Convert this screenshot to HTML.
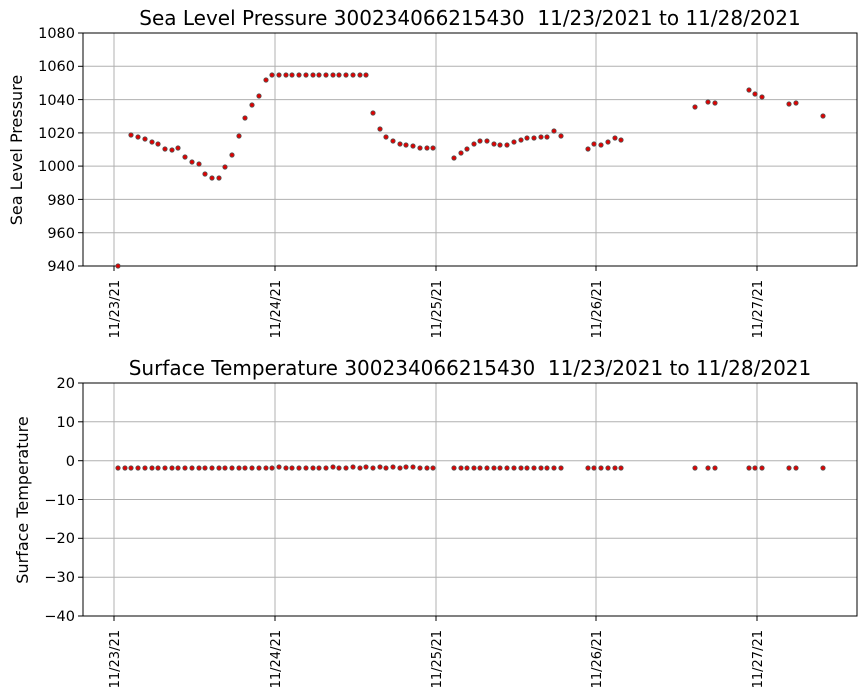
<!DOCTYPE html>
<html><head><meta charset="utf-8"><style>body{margin:0;background:#fff}svg{display:block;font-family:"DejaVu Sans","Liberation Sans",sans-serif}</style></head><body>
<svg width="867" height="700" xmlns="http://www.w3.org/2000/svg">
<g stroke="#b0b0b0" stroke-width="1">
<line x1="114" y1="33" x2="114" y2="266"/><line x1="275" y1="33" x2="275" y2="266"/><line x1="436" y1="33" x2="436" y2="266"/><line x1="596" y1="33" x2="596" y2="266"/><line x1="757" y1="33" x2="757" y2="266"/>
<line x1="83" y1="66.3" x2="857" y2="66.3"/><line x1="83" y1="99.6" x2="857" y2="99.6"/><line x1="83" y1="132.9" x2="857" y2="132.9"/><line x1="83" y1="166.1" x2="857" y2="166.1"/><line x1="83" y1="199.4" x2="857" y2="199.4"/><line x1="83" y1="232.7" x2="857" y2="232.7"/>
<line x1="114" y1="383" x2="114" y2="616"/><line x1="275" y1="383" x2="275" y2="616"/><line x1="436" y1="383" x2="436" y2="616"/><line x1="596" y1="383" x2="596" y2="616"/><line x1="757" y1="383" x2="757" y2="616"/>
<line x1="83" y1="421.8" x2="857" y2="421.8"/><line x1="83" y1="460.7" x2="857" y2="460.7"/><line x1="83" y1="499.5" x2="857" y2="499.5"/><line x1="83" y1="538.3" x2="857" y2="538.3"/><line x1="83" y1="577.2" x2="857" y2="577.2"/>
</g>
<rect x="83" y="33" width="774" height="233" fill="none" stroke="#000" stroke-width="1"/>
<rect x="83" y="383" width="774" height="233" fill="none" stroke="#000" stroke-width="1"/>
<g stroke="#000">
<line x1="114" y1="266" x2="114" y2="271"/><line x1="275" y1="266" x2="275" y2="271"/><line x1="436" y1="266" x2="436" y2="271"/><line x1="596" y1="266" x2="596" y2="271"/><line x1="757" y1="266" x2="757" y2="271"/>
<line x1="114" y1="616" x2="114" y2="621"/><line x1="275" y1="616" x2="275" y2="621"/><line x1="436" y1="616" x2="436" y2="621"/><line x1="596" y1="616" x2="596" y2="621"/><line x1="757" y1="616" x2="757" y2="621"/>
<line x1="78" y1="33" x2="83" y2="33"/><line x1="78" y1="66.3" x2="83" y2="66.3"/><line x1="78" y1="99.6" x2="83" y2="99.6"/><line x1="78" y1="132.9" x2="83" y2="132.9"/><line x1="78" y1="166.1" x2="83" y2="166.1"/><line x1="78" y1="199.4" x2="83" y2="199.4"/><line x1="78" y1="232.7" x2="83" y2="232.7"/><line x1="78" y1="266" x2="83" y2="266"/>
<line x1="78" y1="383" x2="83" y2="383"/><line x1="78" y1="421.8" x2="83" y2="421.8"/><line x1="78" y1="460.7" x2="83" y2="460.7"/><line x1="78" y1="499.5" x2="83" y2="499.5"/><line x1="78" y1="538.3" x2="83" y2="538.3"/><line x1="78" y1="577.2" x2="83" y2="577.2"/><line x1="78" y1="616" x2="83" y2="616"/>
</g>
<g font-size="14.5" text-anchor="end" fill="#000">
<text x="75" y="38">1080</text><text x="75" y="71">1060</text><text x="75" y="105">1040</text><text x="75" y="138">1020</text><text x="75" y="171">1000</text><text x="75" y="205">980</text><text x="75" y="238">960</text><text x="75" y="271">940</text>
<text x="75" y="388">20</text><text x="75" y="427">10</text><text x="75" y="466">0</text><text x="75" y="505">−10</text><text x="75" y="543">−20</text><text x="75" y="582">−30</text><text x="75" y="621">−40</text>
</g>
<g font-size="13" text-anchor="end">
<text transform="translate(119,280) rotate(-90)">11/23/21</text><text transform="translate(280,280) rotate(-90)">11/24/21</text><text transform="translate(441,280) rotate(-90)">11/25/21</text><text transform="translate(601,280) rotate(-90)">11/26/21</text><text transform="translate(762,280) rotate(-90)">11/27/21</text>
<text transform="translate(119,630) rotate(-90)">11/23/21</text><text transform="translate(280,630) rotate(-90)">11/24/21</text><text transform="translate(441,630) rotate(-90)">11/25/21</text><text transform="translate(601,630) rotate(-90)">11/26/21</text><text transform="translate(762,630) rotate(-90)">11/27/21</text>
</g>
<text x="470" y="25" font-size="20" text-anchor="middle">Sea Level Pressure 300234066215430&#160; 11/23/2021 to 11/28/2021</text>
<text x="470" y="375" font-size="20" text-anchor="middle">Surface Temperature 300234066215430&#160; 11/23/2021 to 11/28/2021</text>
<text transform="translate(22,150) rotate(-90)" font-size="16" text-anchor="middle">Sea Level Pressure</text>
<text transform="translate(28,500) rotate(-90)" font-size="16" text-anchor="middle">Surface Temperature</text>
<g fill="#e00000" stroke="#555" stroke-width="0.8">
<circle cx="118" cy="266" r="2.2"/><circle cx="131" cy="135" r="2.2"/><circle cx="138" cy="137" r="2.2"/><circle cx="145" cy="139" r="2.2"/><circle cx="152" cy="142" r="2.2"/><circle cx="158" cy="144" r="2.2"/><circle cx="165" cy="149" r="2.2"/><circle cx="172" cy="150" r="2.2"/><circle cx="178" cy="148" r="2.2"/><circle cx="185" cy="157" r="2.2"/><circle cx="192" cy="162" r="2.2"/><circle cx="199" cy="164" r="2.2"/><circle cx="205" cy="174" r="2.2"/><circle cx="212" cy="178" r="2.2"/><circle cx="219" cy="178" r="2.2"/><circle cx="225" cy="167" r="2.2"/><circle cx="232" cy="155" r="2.2"/><circle cx="239" cy="136" r="2.2"/><circle cx="245" cy="118" r="2.2"/><circle cx="252" cy="105" r="2.2"/><circle cx="259" cy="96" r="2.2"/><circle cx="266" cy="80" r="2.2"/>
<circle cx="272" cy="75" r="2.2"/><circle cx="279" cy="75" r="2.2"/><circle cx="286" cy="75" r="2.2"/><circle cx="292" cy="75" r="2.2"/><circle cx="299" cy="75" r="2.2"/><circle cx="306" cy="75" r="2.2"/><circle cx="313" cy="75" r="2.2"/><circle cx="319" cy="75" r="2.2"/><circle cx="326" cy="75" r="2.2"/><circle cx="333" cy="75" r="2.2"/><circle cx="339" cy="75" r="2.2"/><circle cx="346" cy="75" r="2.2"/><circle cx="353" cy="75" r="2.2"/><circle cx="360" cy="75" r="2.2"/><circle cx="366" cy="75" r="2.2"/>
<circle cx="373" cy="113" r="2.2"/><circle cx="380" cy="129" r="2.2"/><circle cx="386" cy="137" r="2.2"/><circle cx="393" cy="141" r="2.2"/><circle cx="400" cy="144" r="2.2"/><circle cx="406" cy="145" r="2.2"/><circle cx="413" cy="146" r="2.2"/><circle cx="420" cy="148" r="2.2"/><circle cx="427" cy="148" r="2.2"/><circle cx="433" cy="148" r="2.2"/>
<circle cx="454" cy="158" r="2.2"/><circle cx="461" cy="153" r="2.2"/><circle cx="467" cy="149" r="2.2"/><circle cx="474" cy="144" r="2.2"/><circle cx="480" cy="141" r="2.2"/><circle cx="487" cy="141" r="2.2"/><circle cx="494" cy="144" r="2.2"/><circle cx="500" cy="145" r="2.2"/><circle cx="507" cy="145" r="2.2"/><circle cx="514" cy="142" r="2.2"/><circle cx="521" cy="140" r="2.2"/><circle cx="527" cy="138" r="2.2"/><circle cx="534" cy="138" r="2.2"/><circle cx="541" cy="137" r="2.2"/><circle cx="547" cy="137" r="2.2"/><circle cx="554" cy="131" r="2.2"/><circle cx="561" cy="136" r="2.2"/>
<circle cx="588" cy="149" r="2.2"/><circle cx="594" cy="144" r="2.2"/><circle cx="601" cy="145" r="2.2"/><circle cx="608" cy="142" r="2.2"/><circle cx="615" cy="138" r="2.2"/><circle cx="621" cy="140" r="2.2"/>
<circle cx="695" cy="107" r="2.2"/><circle cx="708" cy="102" r="2.2"/><circle cx="715" cy="103" r="2.2"/><circle cx="749" cy="90" r="2.2"/><circle cx="755" cy="94" r="2.2"/><circle cx="762" cy="97" r="2.2"/><circle cx="789" cy="104" r="2.2"/><circle cx="796" cy="103" r="2.2"/><circle cx="823" cy="116" r="2.2"/>
</g>
<g fill="#e00000" stroke="#555" stroke-width="0.8">
<circle cx="118" cy="468" r="2.2"/><circle cx="125" cy="468" r="2.2"/><circle cx="131" cy="468" r="2.2"/><circle cx="138" cy="468" r="2.2"/><circle cx="145" cy="468" r="2.2"/><circle cx="152" cy="468" r="2.2"/><circle cx="158" cy="468" r="2.2"/><circle cx="165" cy="468" r="2.2"/><circle cx="172" cy="468" r="2.2"/><circle cx="178" cy="468" r="2.2"/><circle cx="185" cy="468" r="2.2"/><circle cx="192" cy="468" r="2.2"/><circle cx="199" cy="468" r="2.2"/><circle cx="205" cy="468" r="2.2"/><circle cx="212" cy="468" r="2.2"/><circle cx="219" cy="468" r="2.2"/><circle cx="225" cy="468" r="2.2"/><circle cx="232" cy="468" r="2.2"/><circle cx="239" cy="468" r="2.2"/><circle cx="245" cy="468" r="2.2"/><circle cx="252" cy="468" r="2.2"/><circle cx="259" cy="468" r="2.2"/><circle cx="266" cy="468" r="2.2"/>
<circle cx="272" cy="468" r="2.2"/><circle cx="279" cy="467" r="2.2"/><circle cx="286" cy="468" r="2.2"/><circle cx="292" cy="468" r="2.2"/><circle cx="299" cy="468" r="2.2"/><circle cx="306" cy="468" r="2.2"/><circle cx="313" cy="468" r="2.2"/><circle cx="319" cy="468" r="2.2"/><circle cx="326" cy="468" r="2.2"/><circle cx="333" cy="467" r="2.2"/><circle cx="339" cy="468" r="2.2"/><circle cx="346" cy="468" r="2.2"/><circle cx="353" cy="467" r="2.2"/><circle cx="360" cy="468" r="2.2"/><circle cx="366" cy="467" r="2.2"/>
<circle cx="373" cy="468" r="2.2"/><circle cx="380" cy="467" r="2.2"/><circle cx="386" cy="468" r="2.2"/><circle cx="393" cy="467" r="2.2"/><circle cx="400" cy="468" r="2.2"/><circle cx="406" cy="467" r="2.2"/><circle cx="413" cy="467" r="2.2"/><circle cx="420" cy="468" r="2.2"/><circle cx="427" cy="468" r="2.2"/><circle cx="433" cy="468" r="2.2"/>
<circle cx="454" cy="468" r="2.2"/><circle cx="461" cy="468" r="2.2"/><circle cx="467" cy="468" r="2.2"/><circle cx="474" cy="468" r="2.2"/><circle cx="480" cy="468" r="2.2"/><circle cx="487" cy="468" r="2.2"/><circle cx="494" cy="468" r="2.2"/><circle cx="500" cy="468" r="2.2"/><circle cx="507" cy="468" r="2.2"/><circle cx="514" cy="468" r="2.2"/><circle cx="521" cy="468" r="2.2"/><circle cx="527" cy="468" r="2.2"/><circle cx="534" cy="468" r="2.2"/><circle cx="541" cy="468" r="2.2"/><circle cx="547" cy="468" r="2.2"/><circle cx="554" cy="468" r="2.2"/><circle cx="561" cy="468" r="2.2"/>
<circle cx="588" cy="468" r="2.2"/><circle cx="594" cy="468" r="2.2"/><circle cx="601" cy="468" r="2.2"/><circle cx="608" cy="468" r="2.2"/><circle cx="615" cy="468" r="2.2"/><circle cx="621" cy="468" r="2.2"/>
<circle cx="695" cy="468" r="2.2"/><circle cx="708" cy="468" r="2.2"/><circle cx="715" cy="468" r="2.2"/><circle cx="749" cy="468" r="2.2"/><circle cx="755" cy="468" r="2.2"/><circle cx="762" cy="468" r="2.2"/><circle cx="789" cy="468" r="2.2"/><circle cx="796" cy="468" r="2.2"/><circle cx="823" cy="468" r="2.2"/>
</g>
</svg>
</body></html>
